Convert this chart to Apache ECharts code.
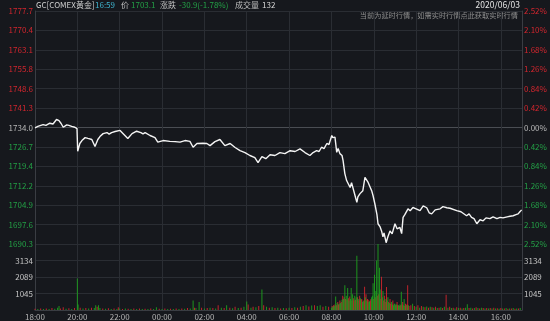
<!DOCTYPE html>
<html><head><meta charset="utf-8">
<script src="https://cdn.jsdelivr.net/npm/echarts@6/dist/echarts.min.js"></script>
<style>html,body{margin:0;padding:0;background:#16181d;}#c{width:550px;height:321px;}</style>
</head><body><div id="c"></div>
<script>
// ---- data ----
const prevClose = 1734.0;
const timeLabels = ['18:00','20:00','22:00','00:00','02:00','04:00','06:00','08:00','10:00','12:00','14:00','16:00'];
const priceTickLabels = ['1690.3','1697.6','1704.9','1712.2','1719.4','1726.7','1734.0','1741.3','1748.6','1755.8','1763.1','1770.4','1777.7'];
const pctTickLabels = ['2.52%','2.10%','1.68%','1.26%','0.84%','0.42%','0.00%','0.42%','0.84%','1.26%','1.68%','2.10%','2.52%'];
const volTickLabels = ['', '1045', '2089', '3134', ''];
const volMax = 4179;
// minutes since 18:00
const priceTimes = [0,8,23,31,42,51,61,68,74,80,90,96,104,113,119,121,127,133,142,150,161,170,178,184,193,204,210,217,227,241,246,252,263,275,288,300,306,312,326,340,348,363,382,397,411,425,439,448,459,476,487,496,510,524,538,553,567,581,595,609,623,632,643,654,666,680,694,708,723,737,751,765,779,788,798,805,812,819,827,833,841,844,850,855,859,864,870,873,878,883,887,893,897,901,907,912,915,921,929,935,938,944,949,954,958,963,969,972,978,982,986,989,995,1000,1006,1012,1020,1026,1034,1039,1043,1048,1057,1063,1071,1080,1091,1100,1110,1117,1124,1134,1148,1156,1167,1176,1195,1207,1223,1230,1237,1244,1252,1261,1270,1278,1289,1298,1309,1318,1326,1338,1346,1355,1363,1369,1374,1379];
const priceValues = [1733.9,1734.4,1735.1,1734.8,1735.6,1735.3,1737.0,1736.6,1735.5,1734.1,1735.0,1734.8,1734.4,1734.1,1733.6,1725.1,1728.0,1729.1,1730.2,1729.9,1729.5,1726.9,1729.5,1730.6,1731.7,1732.1,1731.5,1732.1,1732.5,1732.9,1732.3,1731.4,1729.9,1731.7,1732.6,1732.1,1731.6,1732.1,1731.0,1730.2,1728.5,1729.1,1728.8,1728.7,1728.5,1729.1,1728.8,1726.6,1728.0,1728.1,1728.0,1727.2,1728.7,1729.5,1727.2,1728.0,1726.5,1725.3,1724.6,1723.5,1722.7,1720.8,1723.1,1722.3,1723.8,1723.5,1724.6,1724.2,1725.3,1725.0,1726.0,1724.6,1723.5,1724.6,1725.3,1725.0,1726.6,1726.1,1728.0,1727.6,1731.0,1730.2,1730.4,1724.7,1726.1,1724.2,1723.5,1721.6,1716.7,1714.1,1714.8,1711.5,1713.3,1712.9,1708.4,1705.9,1708.0,1709.2,1710.3,1715.3,1714.8,1713.4,1712.9,1710.3,1708.4,1705.4,1701.3,1697.9,1696.7,1695.2,1693.0,1694.5,1690.8,1693.0,1695.2,1694.1,1697.9,1696.0,1696.5,1694.2,1700.3,1701.3,1703.5,1702.8,1704.0,1703.5,1702.8,1704.6,1703.9,1702.0,1701.6,1703.1,1703.5,1704.3,1703.9,1703.7,1702.8,1702.4,1700.9,1701.6,1700.3,1699.8,1697.9,1699.4,1699.0,1700.1,1699.8,1700.5,1699.8,1700.3,1700.1,1700.5,1700.7,1700.9,1701.3,1701.6,1702.4,1703.1];
// [minute, volume, up(1)/down(0)]
const volumes = [
[0,80,1],[8,60,0],[16,100,1],[24,70,0],[32,90,1],[40,60,0],[48,120,1],[56,80,0],[64,150,0],[68,260,0],[72,100,1],[80,180,1],[88,80,0],[96,110,1],[104,70,0],[112,120,1],[120,2000,0],[122,350,0],[128,150,1],[136,100,0],[144,130,1],[152,90,0],[160,150,1],[168,120,0],[172,300,0],[176,200,1],[180,300,0],[184,120,0],[192,100,1],[200,80,0],[208,110,1],[216,70,0],[224,90,1],[232,60,0],[236,180,1],[240,90,0],[248,70,1],[256,100,0],[264,80,1],[272,60,0],[280,90,1],[288,70,0],[296,100,1],[304,60,0],[312,80,1],[320,70,0],[328,90,1],[336,60,0],[344,180,0],[352,80,1],[360,60,0],[368,90,1],[376,70,0],[384,80,1],[392,60,0],[400,100,1],[408,70,0],[416,90,1],[424,80,0],[432,120,1],[440,100,0],[448,600,0],[452,150,1],[456,120,0],[465,500,0],[472,150,1],[480,100,0],[488,130,1],[496,150,0],[504,120,1],[512,100,0],[519,300,1],[528,150,0],[536,120,1],[543,300,0],[552,140,1],[560,110,0],[567,200,1],[576,130,0],[584,150,1],[592,200,0],[600,540,0],[604,350,1],[612,150,0],[618,200,1],[626,180,0],[634,250,1],[643,1300,0],[648,300,1],[656,200,0],[664,150,1],[672,180,0],[680,120,1],[688,150,0],[696,100,1],[704,130,0],[712,110,1],[720,150,0],[728,120,1],[736,180,0],[744,150,1],[752,200,0],[760,250,1],[768,300,0],[776,220,1],[784,280,0],[792,300,1],[800,250,0],[808,300,0],[816,200,1],[824,250,0],[832,200,1],
[840,150,0],[842,250,1],[844,200,0],[846,300,1],[848,250,0],[850,350,1],[852,850,0],[854,300,1],[856,450,0],[858,500,1],[860,350,1],[862,400,0],[864,600,1],[866,450,0],[868,500,1],[870,650,0],[872,900,1],[874,700,0],[876,800,1],[878,1570,0],[880,700,1],[882,900,0],[884,650,1],[886,1400,0],[888,750,1],[890,600,0],[892,850,1],[894,700,0],[896,1400,0],[898,600,1],[900,1000,0],[902,750,1],[904,600,1],[906,900,0],[908,650,1],[910,800,0],[912,3440,0],[914,800,1],[916,700,0],[918,600,1],[920,900,1],[922,750,0],[924,650,1],[926,700,1],[928,500,0],[930,600,0],[932,550,1],[934,1470,1],[936,800,0],[938,1000,1],[940,600,0],[942,700,1],[944,650,1],[946,500,0],[948,550,0],[950,600,1],[952,700,1],[954,800,0],[956,900,0],[958,1690,0],[960,700,1],[962,2230,0],[964,800,1],[966,1200,0],[968,3140,0],[970,900,1],[972,4179,0],[974,1000,1],[976,2680,0],[978,1300,0],[980,700,1],[982,2100,1],[984,800,0],[986,1200,0],[988,600,1],[990,900,1],[992,700,0],[994,500,1],[996,1450,1],[998,600,0],[1000,800,0],[1002,500,1],[1004,450,0],[1006,700,1],[1008,400,1],[1010,500,0],[1012,350,1],[1014,600,1],[1016,300,0],[1018,400,0],[1020,400,0],[1022,300,1],[1024,350,0],[1026,500,1],[1028,300,1],[1030,300,0],[1032,250,1],[1034,350,0],[1036,300,1],[1038,1150,0],[1040,350,1],[1042,500,1],[1044,300,0],[1046,700,0],[1048,250,1],[1050,400,1],[1052,300,0],[1054,350,1],[1056,1570,1],[1058,300,0],[1060,250,1],
[1065,300,1],[1070,400,0],[1075,250,1],[1080,200,0],[1085,300,1],[1090,150,0],[1095,250,1],[1100,200,0],[1105,180,1],[1110,220,0],[1115,150,1],[1120,200,0],[1125,180,1],[1130,150,0],[1135,200,1],[1140,120,0],[1145,150,1],[1150,180,0],[1155,120,1],[1160,200,0],[1165,960,1],[1170,150,0],[1175,200,1],[1180,120,0],[1185,150,1],[1190,100,0],[1195,180,1],[1200,120,0],[1205,150,1],[1210,100,0],[1215,120,1],[1220,150,0],[1225,360,0],[1230,120,1],[1235,150,0],[1240,100,1],[1245,130,0],[1250,180,1],[1255,120,0],[1260,100,1],[1265,150,0],[1270,120,1],[1275,100,0],[1280,130,1],[1285,90,0],[1290,120,1],[1295,100,0],[1300,150,1],[1305,90,0],[1310,110,1],[1315,80,0],[1320,120,1],[1325,100,0],[1330,90,1],[1335,130,0],[1340,80,1],[1345,100,0],[1350,90,1],[1355,120,0],[1360,80,1],[1365,100,0],[1370,90,1],[1375,132,0]
];

// ---- chart ----
const step = prevClose * 0.0042; // one price grid step
const lineData = priceTimes.map((t, i) => [t, (priceValues[i] - prevClose) / step]);
const volUp = volumes.filter(v => v[2] === 1).map(v => [v[0], v[1]]);
const volDown = volumes.filter(v => v[2] === 0).map(v => [v[0], v[1]]);

const RED = '#d2262e', GREEN = '#23a046', GRAY = '#b8b8b8', GRID = '#2a2d33';
const FONT = 'Noto Sans CJK SC';
const lblColor = v => v > 0.001 ? RED : (v < -0.001 ? GREEN : GRAY);
const splitColors = priceTickLabels.map((_, i) => i === 6 ? '#4a4d53' : GRID);

const chart = echarts.init(document.getElementById('c'), null, {renderer: 'canvas'});
const xCommon = {
  type: 'value', min: 0, max: 1380, interval: 120,
  axisTick: {show: false},
  splitLine: {show: true, lineStyle: {color: GRID, width: 1}}
};
const hdr = (left, text, fill) => ({type: 'text', left: left, top: 1,
  style: {text: text, fill: fill, font: '8px "Noto Sans CJK SC"'}});
chart.setOption({
  backgroundColor: '#16181d',
  animation: false,
  textStyle: {fontFamily: FONT},
  grid: [
    {left: 35, right: 28, top: 11, height: 233},
    {left: 35, right: 28, top: 244, height: 67}
  ],
  xAxis: [
    Object.assign({}, xCommon, {gridIndex: 0, axisLine: {show: false}, axisLabel: {show: false}}),
    Object.assign({}, xCommon, {gridIndex: 1, axisLine: {show: true, lineStyle: {color: '#3a3d43'}},
      axisLabel: {show: true, color: '#b4b4b4', fontSize: 8, margin: 3, fontFamily: FONT,
        formatter: v => timeLabels[Math.round(v / 120)] || ''}})
  ],
  yAxis: [
    {type: 'value', gridIndex: 0, min: -6, max: 6, interval: 1, position: 'left',
      axisLine: {show: true, lineStyle: {color: '#3a3d43'}}, axisTick: {show: false},
      splitLine: {show: true, lineStyle: {color: splitColors, width: 1}},
      axisLabel: {fontSize: 8, margin: 2, fontFamily: FONT, color: lblColor,
        formatter: v => priceTickLabels[Math.round(v) + 6]}},
    {type: 'value', gridIndex: 0, min: -6, max: 6, interval: 1, position: 'right',
      axisLine: {show: true, lineStyle: {color: '#3a3d43'}}, axisTick: {show: false},
      splitLine: {show: false},
      axisLabel: {fontSize: 8, margin: 2, fontFamily: FONT, color: lblColor,
        formatter: v => pctTickLabels[Math.round(v) + 6]}},
    {type: 'value', gridIndex: 1, min: 0, max: volMax, interval: volMax / 4, position: 'left',
      axisLine: {show: true, lineStyle: {color: '#3a3d43'}}, axisTick: {show: false},
      splitLine: {show: true, lineStyle: {color: GRID}},
      axisLabel: {fontSize: 8, margin: 2, fontFamily: FONT, color: '#c4c4c4',
        formatter: v => volTickLabels[Math.round(v / (volMax / 4))]}},
    {type: 'value', gridIndex: 1, min: 0, max: volMax, interval: volMax / 4, position: 'right',
      axisLine: {show: true, lineStyle: {color: '#3a3d43'}}, axisTick: {show: false},
      splitLine: {show: false},
      axisLabel: {fontSize: 8, margin: 2, fontFamily: FONT, color: '#c4c4c4',
        formatter: v => volTickLabels[Math.round(v / (volMax / 4))]}}
  ],
  series: [
    {type: 'line', xAxisIndex: 0, yAxisIndex: 0, data: lineData, showSymbol: false,
      lineStyle: {color: '#f4f4f4', width: 1.4}},
    {type: 'bar', xAxisIndex: 1, yAxisIndex: 2, data: volUp, barWidth: 1, barGap: '-100%',
      itemStyle: {color: RED, opacity: 0.9}},
    {type: 'bar', xAxisIndex: 1, yAxisIndex: 2, data: volDown, barWidth: 1, barGap: '-100%',
      itemStyle: {color: '#1ea21e', opacity: 0.9}}
  ],
  graphic: [
    hdr(36, 'GC[COMEX黄金]', '#cfcfcf'),
    hdr(95, '16:59', '#3fb4cf'),
    hdr(121, '价', '#bdbdbd'),
    hdr(131, '1703.1', GREEN),
    hdr(160, '涨跌', '#bdbdbd'),
    hdr(179, '-30.9(-1.78%)', GREEN),
    hdr(235, '成交量', '#bdbdbd'),
    hdr(262, '132', '#d8d8d8'),
    {type: 'text', right: 30, top: 1, style: {text: '2020/06/03', fill: '#e4e4e4', font: '8.5px "Noto Sans CJK SC"'}},
    {type: 'text', right: 32, top: 12, style: {text: '当前为延时行情，如需实时行情点此获取实时行情', fill: '#8e8e8e', font: '7.2px "Noto Sans CJK SC"'}}
  ]
});
</script></body></html>
